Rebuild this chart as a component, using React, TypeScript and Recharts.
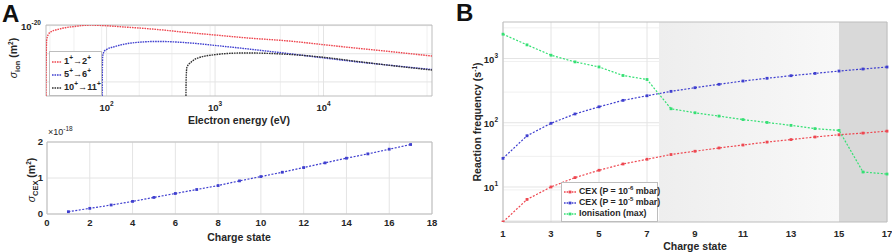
import React from 'react';
import { LineChart, Line, XAxis, YAxis, CartesianGrid, ReferenceArea } from 'recharts';

const FONT = '"Liberation Sans", Arial, Helvetica, sans-serif';
const INK = '#262626';
const FRAME = '#bdbdbd';
const GRID = '#e4e4e4';
const MINOR = '#f0f0f0';

// Panel A (top): electron impact ionisation cross sections, energy in eV, sigma in m^2
const energy1to2 = [27.63, 27.7, 28, 29, 31, 35, 40, 50, 70, 100, 150, 200, 300, 500, 1000, 2000, 5000, 1e4, 2e4, 5e4, 1e5];
const sigma1to2 = [1e-25, 6.8e-24, 8.8e-22, 2.3e-21, 3.8e-21, 5.2e-21, 6.7e-21, 8.5e-21, 1.08e-20, 9.7e-21, 7.8e-21, 6.7e-21, 5.2e-21, 3.5e-21, 2.14e-21, 1.32e-21, 7.8e-22, 4.4e-22, 2.5e-22, 1.22e-22, 6.9e-23];
const energy5to6 = [91, 91.3, 92, 95, 100, 120, 150, 200, 300, 500, 1000, 2000, 5000, 1e4, 2e4, 5e4, 1e5];
const sigma5to6 = [1e-25, 3e-24, 6.6e-23, 1.48e-22, 2.0e-22, 3.3e-22, 5.0e-22, 6.6e-22, 7.5e-22, 6.4e-22, 3.9e-22, 2.2e-22, 9.8e-23, 5.1e-23, 2.7e-23, 1.3e-23, 7.6e-24];
const energy10to11 = [539, 541, 550, 600, 700, 1000, 1500, 2000, 3000, 5000, 1e4, 2e4, 5e4, 1e5];
const sigma10to11 = [1e-25, 1.35e-24, 1.1e-23, 2.5e-23, 5.1e-23, 8.6e-23, 1.1e-22, 1.14e-22, 1.07e-22, 8.8e-23, 5.6e-23, 2.9e-23, 1.25e-23, 7.0e-24];
const energyTicks = [100, 1000, 10000];
const energyMinor = [30, 40, 50, 60, 70, 80, 90, 200, 300, 400, 500, 600, 700, 800, 900, 2000, 3000, 4000, 5000, 6000, 7000, 8000, 9000, 20000, 30000, 40000, 50000, 60000, 70000, 80000, 90000];
const sigmaDecades = [1e-25, 1e-24, 1e-23, 1e-22, 1e-21, 1e-20];

// Panel A (bottom): charge exchange cross section, units of 1e-18 m^2
const cexCharge = [1, 2, 3, 4, 5, 6, 7, 8, 9, 10, 11, 12, 13, 14, 15, 16, 17];
const cexSigma = [0.064, 0.157, 0.25, 0.35, 0.46, 0.57, 0.68, 0.79, 0.92, 1.04, 1.16, 1.29, 1.42, 1.55, 1.67, 1.8, 1.93];
const cexXTicks = [0, 2, 4, 6, 8, 10, 12, 14, 16, 18];

// Panel B: reaction frequencies (s^-1) by charge state
const chargeStates = [1, 2, 3, 4, 5, 6, 7, 8, 9, 10, 11, 12, 13, 14, 15, 16, 17];
const cexLowP = [2.85, 6.4, 10.0, 14.0, 18.2, 22.8, 27.0, 32, 36, 40.5, 45, 50, 54.7, 60, 65, 69, 74];
const cexHighP = [27.9, 62.7, 98, 137, 177, 223, 263, 308, 351, 396, 446, 492, 540, 586, 638, 686, 737];
const ionisationMax = [2390, 1630, 1125, 885, 739, 544, 471, 165, 143, 127, 112, 101, 91, 81, 76, 17.1, 15.9];
const freqTicks = [10, 100, 1000];
const freqMinor = [3, 4, 5, 6, 7, 8, 9, 20, 30, 40, 50, 60, 70, 80, 90, 200, 300, 400, 500, 600, 700, 800, 900, 2000, 3000];
const chargeTicks = [1, 3, 5, 7, 9, 11, 13, 15, 17];

const RED = '#ee4750';
const BLUE = '#3f3fcf';
const BLACK = '#333333';
const GREEN = '#35e074';

const toRows = (xs: number[], ys: number[]) => xs.map((x, i) => ({ x, y: ys[i] }));
const bRows = chargeStates.map((q, i) => ({ q, low: cexLowP[i], high: cexHighP[i], ion: ionisationMax[i] }));
const cexRows = cexCharge.map((q, i) => ({ q, s: cexSigma[i] }));

const PowerTick = (props: any) => {
  const { x, y, payload, side } = props;
  const exp = Math.round(Math.log10(payload.value));
  const common = { fontFamily: FONT, fontWeight: 700, fontSize: 9.5, fill: INK } as any;
  if (side === 'left') {
    return (
      <text x={x - 3} y={y + 4} textAnchor="end" {...common}>
        10<tspan dy={-4.5} fontSize={6.5}>{exp}</tspan>
      </text>
    );
  }
  return (
    <text x={x} y={y + 12.5} textAnchor="middle" {...common}>
      10<tspan dy={-4.5} fontSize={6.5}>{exp}</tspan>
    </text>
  );
};

const squareDot = (color: string) => (props: any) => {
  const { cx, cy, index } = props;
  return <rect key={`d-${index}`} x={cx - 1.4} y={cy - 1.4} width={2.8} height={2.8} fill={color} />;
};

const tickStyle = { fontFamily: FONT, fontWeight: 700, fontSize: 9.5, fill: INK };

const IonChart = () => (
  <LineChart width={460} height={125} margin={{ top: 25, right: 28, bottom: 9, left: 6 }}>
    <CartesianGrid stroke={MINOR} verticalValues={energyMinor} horizontal={false} />
    <CartesianGrid stroke={GRID} verticalValues={energyTicks} horizontalValues={sigmaDecades} />
    <XAxis type="number" dataKey="x" scale="log" domain={[27.63, 1e5]} allowDataOverflow ticks={energyTicks}
      height={20} axisLine={false} tickLine={false} tickSize={0} tick={<PowerTick side="bottom" />} />
    <YAxis type="number" dataKey="y" scale="log" domain={[1e-25, 1.1e-20]} allowDataOverflow ticks={[1e-20]}
      width={40} axisLine={false} tickLine={false} tickSize={0} tick={<PowerTick side="left" />} />
    <Line data={toRows(energy1to2, sigma1to2)} dataKey="y" type="monotone" stroke={RED} strokeWidth={1.4}
      strokeDasharray="1.6 0.9" dot={false} isAnimationActive={false} />
    <Line data={toRows(energy5to6, sigma5to6)} dataKey="y" type="monotone" stroke={BLUE} strokeWidth={1.4}
      strokeDasharray="1.6 0.9" dot={false} isAnimationActive={false} />
    <Line data={toRows(energy10to11, sigma10to11)} dataKey="y" type="monotone" stroke={BLACK} strokeWidth={1.4}
      strokeDasharray="1.6 0.9" dot={false} isAnimationActive={false} />
    <ReferenceArea x1={27.63} x2={1e5} y1={1e-25} y2={1.1e-20} fill="none" stroke={FRAME} strokeWidth={1} />
  </LineChart>
);

const CexChart = () => (
  <LineChart width={460} height={127} data={cexRows} margin={{ top: 17, right: 28, bottom: 18, left: 7 }}>
    <CartesianGrid stroke={GRID} />
    <XAxis type="number" dataKey="q" domain={[0, 18]} ticks={cexXTicks} height={20} axisLine={false}
      tickLine={false} tickSize={0} tickMargin={5} tick={tickStyle} />
    <YAxis type="number" domain={[0, 2]} ticks={[0, 1, 2]} width={40} axisLine={false} tickLine={false}
      tickSize={0} tickMargin={4} tick={tickStyle} />
    <Line dataKey="s" type="linear" stroke={BLUE} strokeWidth={1.2} strokeDasharray="2 1.5"
      dot={squareDot(BLUE)} isAnimationActive={false} />
    <ReferenceArea x1={0} x2={18} y1={0} y2={2} fill="none" stroke={FRAME} strokeWidth={1} />
  </LineChart>
);

const FreqChart = () => (
  <LineChart width={432} height={252} data={bRows} margin={{ top: 22, right: 5, bottom: 10, left: 3 }}>
    <defs>
      <linearGradient id="gradLight" x1="0" y1="0" x2="1" y2="0">
        <stop offset="0%" stopColor="#eeeeee" />
        <stop offset="100%" stopColor="#f8f8f8" />
      </linearGradient>
    </defs>
    <ReferenceArea x1={7.5} x2={15} y1={2.85} y2={3700} fill="url(#gradLight)" fillOpacity={1} stroke="none" />
    <ReferenceArea x1={15} x2={17} y1={2.85} y2={3700} fill="#d9d9d9" fillOpacity={1} stroke="none" />
    <CartesianGrid stroke={MINOR} horizontalValues={freqMinor} vertical={false} fill="none" />
    <CartesianGrid stroke={GRID} horizontalValues={freqTicks} verticalValues={chargeTicks} fill="none" />
    <XAxis type="number" dataKey="q" domain={[1, 17]} ticks={chargeTicks} height={20} axisLine={false}
      tickLine={false} tickSize={0} tickMargin={8} tick={tickStyle} />
    <YAxis type="number" scale="log" domain={[2.85, 3700]} allowDataOverflow ticks={freqTicks} width={40}
      axisLine={false} tickLine={false} tickSize={0} tick={<PowerTick side="left" />} />
    <Line dataKey="low" type="linear" stroke={RED} strokeWidth={1.2} strokeDasharray="2 1.6"
      dot={squareDot(RED)} isAnimationActive={false} />
    <Line dataKey="high" type="linear" stroke={BLUE} strokeWidth={1.2} strokeDasharray="2 1.6"
      dot={squareDot(BLUE)} isAnimationActive={false} />
    <Line dataKey="ion" type="linear" stroke={GREEN} strokeWidth={1.2} strokeDasharray="2 1.6"
      dot={squareDot(GREEN)} isAnimationActive={false} />
    <ReferenceArea x1={1} x2={17} y1={2.85} y2={3700} fill="none" stroke={FRAME} strokeWidth={1} />
  </LineChart>
);

const abs = (left: number, top: number, extra: React.CSSProperties = {}): React.CSSProperties => ({
  position: 'absolute', left, top, whiteSpace: 'nowrap', ...extra,
});

const label: React.CSSProperties = { fontFamily: FONT, fontWeight: 700, fontSize: 10.5, color: INK, lineHeight: 1 };
const sup = (s: string, size = 6.5): React.ReactNode => (
  <span style={{ fontSize: size, position: 'relative', top: -4 }}>{s}</span>
);
const sub = (s: string, size = 7.5): React.ReactNode => (
  <span style={{ fontSize: size, position: 'relative', top: 2.5 }}>{s}</span>
);

const LegendSample = ({ color }: { color: string }) => (
  <svg width={12} height={6} style={{ marginRight: 3, verticalAlign: 'middle' }}>
    <line x1={0} y1={3} x2={12} y2={3} stroke={color} strokeWidth={1.3} strokeDasharray="1.6 1" />
    <rect x={4.6} y={1.6} width={2.8} height={2.8} fill={color} />
  </svg>
);

const LegendSampleLine = ({ color }: { color: string }) => (
  <svg width={10} height={6} style={{ marginRight: 2, verticalAlign: 'middle' }}>
    <line x1={0} y1={3} x2={10} y2={3} stroke={color} strokeWidth={1.4} strokeDasharray="1.6 0.9" />
  </svg>
);

export default function App() {
  const legendText: React.CSSProperties = { fontFamily: FONT, fontWeight: 700, fontSize: 8.8, color: INK, lineHeight: '11px', height: 11, whiteSpace: 'nowrap' };
  const legendA: React.CSSProperties = { ...legendText, fontSize: 9.2 };
  return (
    <div style={{ position: 'absolute', left: 0, top: 0, width: 892, height: 252, background: '#fff', overflow: 'hidden' }}>
      <div style={abs(0, 0)}><IonChart /></div>
      <div style={abs(0, 125)}><CexChart /></div>
      <div style={abs(460, 0)}><FreqChart /></div>

      {/* panel letters */}
      <div style={abs(2, 2, { fontFamily: FONT, fontWeight: 700, fontSize: 24, lineHeight: 1, color: '#111' })}>A</div>
      <div style={abs(456, 1, { fontFamily: FONT, fontWeight: 700, fontSize: 24, lineHeight: 1, color: '#111' })}>B</div>

      {/* panel A top labels */}
      <div style={abs(13, 58, { ...label, transform: 'translate(-50%, -50%) rotate(-90deg)' })}>
        <span style={{ fontStyle: 'italic', fontWeight: 400 }}>σ</span>{sub('ion')} (m{sup('2')})
      </div>
      <div style={abs(239, 120, { ...label, transform: 'translate(-50%, -50%)' })}>Electron energy (eV)</div>
      <div style={abs(49, 51, { width: 53, height: 45, background: '#fff', border: `1px solid ${FRAME}`, padding: '4px 0 0 2px', boxSizing: 'border-box' })}>
        <div style={legendA}><LegendSampleLine color={RED} />1{sup('+', 6.5)}→2{sup('+', 6.5)}</div>
        <div style={{ ...legendA, marginTop: 2 }}><LegendSampleLine color={BLUE} />5{sup('+', 6.5)}→6{sup('+', 6.5)}</div>
        <div style={{ ...legendA, marginTop: 2 }}><LegendSampleLine color={BLACK} />10{sup('+', 6.5)}→11{sup('+', 6.5)}</div>
      </div>

      {/* panel A bottom labels */}
      <div style={abs(31, 180, { ...label, transform: 'translate(-50%, -50%) rotate(-90deg)' })}>
        <span style={{ fontStyle: 'italic', fontWeight: 400 }}>σ</span>{sub('CEX')} (m{sup('2')})
      </div>
      <div style={abs(48, 128, { fontFamily: FONT, fontSize: 9, color: INK, lineHeight: 1 })}>
        ×10{sup('-18', 6.5)}
      </div>
      <div style={abs(239, 237, { ...label, transform: 'translate(-50%, -50%)' })}>Charge state</div>

      {/* panel B labels */}
      <div style={abs(477, 122, { ...label, transform: 'translate(-50%, -50%) rotate(-90deg)' })}>
        Reaction frequency (s{sup('-1')})
      </div>
      <div style={abs(695, 246, { ...label, transform: 'translate(-50%, -50%)' })}>Charge state</div>
      <div style={abs(561, 182, { width: 97, height: 40, background: '#fff', border: `1px solid ${FRAME}`, padding: '3px 0 0 2px', boxSizing: 'border-box' })}>
        <div style={legendText}><LegendSample color={RED} />CEX (P = 10{sup('-6', 6)} mbar)</div>
        <div style={legendText}><LegendSample color={BLUE} />CEX (P = 10{sup('-5', 6)} mbar)</div>
        <div style={legendText}><LegendSample color={GREEN} />Ionisation (max)</div>
      </div>
    </div>
  );
}
